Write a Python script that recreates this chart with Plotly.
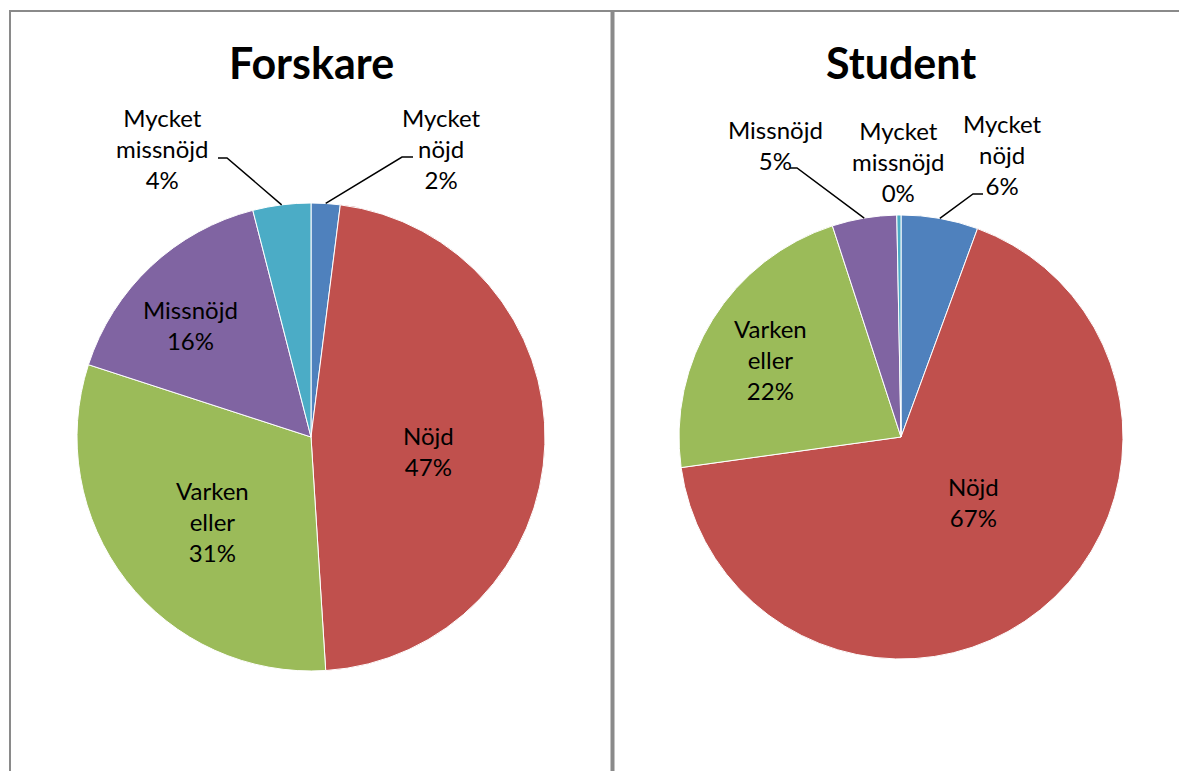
import plotly.graph_objects as go
import math

# ---------------- data ----------------
categories = ["Mycket nöjd", "Nöjd", "Varken eller", "Missnöjd", "Mycket missnöjd"]
forskare_values = [2.0, 47.0, 31.0, 16.0, 4.0]
student_values = [5.6, 67.2, 22.2, 4.7, 0.3]
titles = ["Forskare", "Student"]

# ---------------- style / layout ----------------
W, H = 1179, 771
colors = ["#4F81BD", "#C0504D", "#9BBB59", "#8064A2", "#4BACC6"]
FONT = "Lato"

def fx(x):
    return x / W

def fy(y):
    return 1 - y / H

# pie geometry in pixels (center x, center y, radius)
PIES = [(311, 437, 234), (901, 437, 222)]
TITLE_POS = [(311, 62), (901, 62)]

# label block centers (px) per slice for each chart
LABEL_POS = [
    {0: (441, 149), 1: (428, 451), 2: (212, 521), 3: (190, 325), 4: (163, 149)},
    {0: (1002, 155), 1: (974, 502), 2: (770, 359), 3: (775, 145), 4: (898, 161)},
]
# leader line elbow and end points (px): slice index -> (elbow, end)
LEADERS = [
    {0: ((402, 157), (413, 157)), 4: ((227, 158), (218, 158))},
    {0: ((973, 194), (983, 194)), 3: ((797, 168), (790, 168))},
]

fig = go.Figure()
annotations = []
shapes = []

for k, values in enumerate([forskare_values, student_values]):
    cx, cy, r = PIES[k]
    fig.add_trace(go.Pie(
        labels=categories,
        values=values,
        sort=False,
        direction="clockwise",
        rotation=0,
        marker=dict(colors=colors, line=dict(color="white", width=1)),
        textinfo="none",
        hoverinfo="label+percent",
        showlegend=False,
        domain=dict(x=[fx(cx - r), fx(cx + r)], y=[fy(cy + r), fy(cy - r)]),
    ))
    total = sum(values)
    cum = 0.0
    for i, (cat, v) in enumerate(zip(categories, values)):
        mid = (cum + v / 2) / total
        cum += v
        pct = round(100 * v / total)
        words = cat.split(" ")
        text = "<br>".join(words) + f"<br>{pct}%"
        lx, ly = LABEL_POS[k][i]
        annotations.append(dict(
            x=fx(lx), y=fy(ly), xref="paper", yref="paper",
            text=text, showarrow=False, xanchor="center", yanchor="middle",
            font=dict(family=FONT, size=24, color="black"), align="center",
        ))
        if i in LEADERS[k]:
            ang = 2 * math.pi * mid
            sx = cx + r * math.sin(ang)
            sy = cy - r * math.cos(ang)
            (ex, ey), (tx, ty) = LEADERS[k][i]
            shapes.append(dict(
                type="path", xref="paper", yref="paper",
                path=f"M {fx(sx)},{fy(sy)} L {fx(ex)},{fy(ey)} L {fx(tx)},{fy(ty)}",
                line=dict(color="black", width=1.5),
            ))
    tx, ty = TITLE_POS[k]
    annotations.append(dict(
        x=fx(tx), y=fy(ty), xref="paper", yref="paper", text=f"<b>{titles[k]}</b>",
        showarrow=False, xanchor="center", yanchor="middle",
        font=dict(family=FONT, size=43, color="black"),
    ))

# panel borders
border = "#8a8a8a"
shapes += [
    dict(type="line", xref="paper", yref="paper", x0=fx(9), x1=1, y0=fy(11), y1=fy(11),
         line=dict(color=border, width=2)),
    dict(type="line", xref="paper", yref="paper", x0=fx(10), x1=fx(10), y0=fy(11), y1=0,
         line=dict(color=border, width=2)),
    dict(type="line", xref="paper", yref="paper", x0=fx(612.5), x1=fx(612.5), y0=fy(11), y1=0,
         line=dict(color=border, width=4)),
]

fig.update_layout(
    width=W, height=H,
    margin=dict(l=0, r=0, t=0, b=0),
    paper_bgcolor="white", plot_bgcolor="white",
    annotations=annotations, shapes=shapes,
    font=dict(family=FONT),
)

fig.write_html(
    "out.html",
    config={"displayModeBar": False},
    post_script="document.body.style.margin='0';document.body.style.overflow='hidden';",
)
